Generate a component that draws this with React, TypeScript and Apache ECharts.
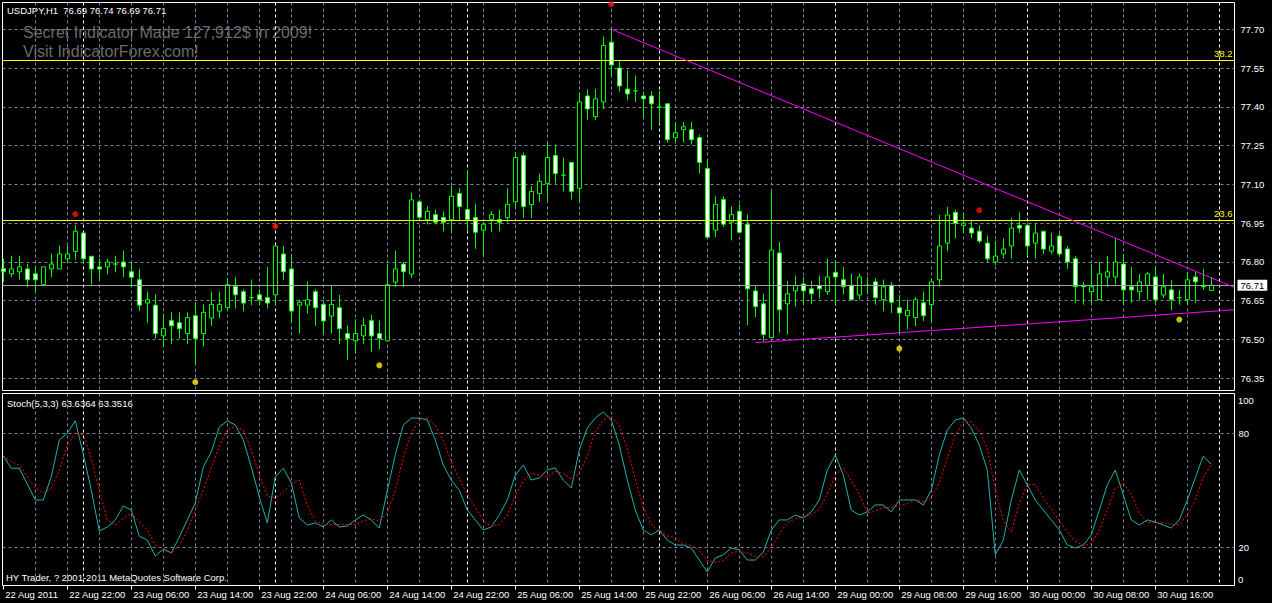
import React, { useEffect, useRef } from 'react';
import * as echarts from 'echarts';

// open, high, low, close per H1 bar (bar 0 = 22 Aug 14:00)
const ohlc: [number, number, number, number][] = [
  [76.774, 76.812, 76.722, 76.762], [76.754, 76.824, 76.741, 76.773], [76.762, 76.824, 76.732, 76.781], [76.773, 76.792, 76.703, 76.731],
  [76.754, 76.786, 76.683, 76.731], [76.712, 76.781, 76.712, 76.781], [76.773, 76.832, 76.741, 76.792], [76.773, 76.863, 76.773, 76.831],
  [76.812, 76.863, 76.799, 76.831], [76.841, 76.944, 76.809, 76.919], [76.912, 76.912, 76.792, 76.812], [76.822, 76.822, 76.712, 76.773],
  [76.781, 76.812, 76.730, 76.773], [76.781, 76.812, 76.751, 76.800], [76.792, 76.824, 76.760, 76.792], [76.800, 76.844, 76.741, 76.781],
  [76.762, 76.800, 76.703, 76.741], [76.731, 76.773, 76.610, 76.633], [76.641, 76.685, 76.564, 76.654], [76.633, 76.674, 76.504, 76.523],
  [76.514, 76.601, 76.473, 76.542], [76.573, 76.605, 76.482, 76.553], [76.565, 76.605, 76.504, 76.542], [76.523, 76.605, 76.482, 76.585],
  [76.592, 76.645, 76.403, 76.504], [76.523, 76.636, 76.473, 76.605], [76.583, 76.685, 76.553, 76.636], [76.610, 76.685, 76.583, 76.636],
  [76.623, 76.738, 76.610, 76.712], [76.705, 76.742, 76.620, 76.673], [76.685, 76.694, 76.610, 76.641], [76.662, 76.732, 76.633, 76.662],
  [76.673, 76.694, 76.633, 76.654], [76.662, 76.781, 76.620, 76.641], [76.673, 76.862, 76.633, 76.862], [76.831, 76.862, 76.730, 76.762],
  [76.773, 76.831, 76.568, 76.610], [76.633, 76.654, 76.523, 76.644], [76.633, 76.724, 76.601, 76.654], [76.685, 76.694, 76.553, 76.623],
  [76.636, 76.649, 76.523, 76.572], [76.591, 76.712, 76.523, 76.636], [76.623, 76.673, 76.482, 76.542], [76.523, 76.555, 76.422, 76.504],
  [76.495, 76.578, 76.446, 76.523], [76.514, 76.585, 76.482, 76.555], [76.573, 76.595, 76.453, 76.514], [76.523, 76.573, 76.463, 76.504],
  [76.495, 76.792, 76.495, 76.712], [76.722, 76.844, 76.703, 76.773], [76.792, 76.800, 76.703, 76.762], [76.753, 77.069, 76.739, 77.040],
  [77.033, 77.042, 76.960, 76.973], [76.963, 77.015, 76.945, 76.996], [76.983, 77.003, 76.945, 76.954], [76.972, 76.996, 76.919, 76.954],
  [76.963, 77.094, 76.919, 77.054], [77.065, 77.085, 76.963, 77.014], [77.003, 77.156, 76.919, 76.964], [76.972, 77.024, 76.851, 76.915],
  [76.923, 76.954, 76.826, 76.946], [76.965, 76.996, 76.915, 76.983], [76.965, 77.003, 76.919, 76.954], [76.972, 77.085, 76.954, 77.023],
  [77.033, 77.226, 77.012, 77.204], [77.212, 77.223, 76.971, 77.014], [77.022, 77.094, 76.971, 77.073], [77.065, 77.142, 77.033, 77.112],
  [77.104, 77.264, 77.037, 77.204], [77.212, 77.254, 77.104, 77.142], [77.136, 77.204, 77.073, 77.136], [77.185, 77.185, 77.042, 77.073],
  [77.085, 77.456, 77.033, 77.419], [77.442, 77.469, 77.351, 77.392], [77.362, 77.469, 77.349, 77.431], [77.419, 77.672, 77.392, 77.638],
  [77.650, 77.700, 77.518, 77.562], [77.550, 77.581, 77.459, 77.481], [77.469, 77.541, 77.427, 77.450], [77.462, 77.521, 77.418, 77.462],
  [77.442, 77.460, 77.358, 77.431], [77.442, 77.460, 77.310, 77.412], [77.400, 77.462, 77.335, 77.400], [77.412, 77.412, 77.262, 77.273],
  [77.281, 77.342, 77.262, 77.300], [77.312, 77.342, 77.262, 77.323], [77.312, 77.342, 77.254, 77.273], [77.281, 77.292, 77.142, 77.185],
  [77.162, 77.197, 76.896, 76.896], [76.923, 77.054, 76.896, 77.023], [77.042, 77.054, 76.935, 76.946], [76.954, 77.014, 76.883, 76.983],
  [76.996, 77.023, 76.915, 76.915], [76.946, 76.983, 76.556, 76.696], [76.688, 76.709, 76.587, 76.627], [76.638, 76.677, 76.492, 76.519],
  [76.508, 77.073, 76.508, 76.846], [76.835, 76.877, 76.526, 76.615], [76.638, 76.727, 76.519, 76.677], [76.688, 76.746, 76.627, 76.709],
  [76.715, 76.742, 76.638, 76.688], [76.696, 76.727, 76.638, 76.677], [76.709, 76.746, 76.658, 76.696], [76.685, 76.812, 76.672, 76.742],
  [76.760, 76.804, 76.635, 76.742], [76.731, 76.781, 76.674, 76.704], [76.710, 76.755, 76.654, 76.654], [76.672, 76.755, 76.654, 76.742],
  [76.710, 76.742, 76.674, 76.710], [76.723, 76.737, 76.635, 76.662], [76.654, 76.732, 76.610, 76.704], [76.710, 76.723, 76.603, 76.644],
  [76.623, 76.672, 76.523, 76.603], [76.592, 76.654, 76.540, 76.612], [76.585, 76.665, 76.551, 76.654], [76.642, 76.685, 76.572, 76.592],
  [76.635, 76.737, 76.568, 76.723], [76.731, 76.982, 76.704, 76.862], [76.873, 77.013, 76.842, 76.982], [76.992, 77.001, 76.891, 76.950],
  [76.942, 76.992, 76.912, 76.950], [76.931, 76.962, 76.891, 76.912], [76.919, 76.942, 76.873, 76.881], [76.873, 76.901, 76.800, 76.812],
  [76.800, 76.881, 76.788, 76.823], [76.831, 76.892, 76.812, 76.850], [76.862, 76.971, 76.812, 76.931], [76.942, 76.992, 76.912, 76.931],
  [76.942, 76.950, 76.823, 76.862], [76.873, 76.950, 76.812, 76.912], [76.919, 76.919, 76.831, 76.850], [76.842, 76.912, 76.831, 76.862],
  [76.900, 76.912, 76.823, 76.831], [76.850, 76.862, 76.773, 76.800], [76.812, 76.823, 76.642, 76.704], [76.710, 76.723, 76.635, 76.704],
  [76.685, 76.792, 76.642, 76.704], [76.654, 76.800, 76.654, 76.754], [76.742, 76.823, 76.704, 76.762], [76.742, 76.892, 76.713, 76.800],
  [76.792, 76.831, 76.635, 76.692], [76.704, 76.781, 76.642, 76.692], [76.685, 76.754, 76.654, 76.723], [76.710, 76.762, 76.654, 76.754],
  [76.742, 76.785, 76.635, 76.654], [76.672, 76.754, 76.662, 76.704], [76.692, 76.731, 76.612, 76.654], [76.662, 76.692, 76.635, 76.662],
  [76.654, 76.762, 76.635, 76.731], [76.742, 76.762, 76.642, 76.723], [76.710, 76.773, 76.692, 76.704], [76.690, 76.740, 76.690, 76.710],
];

const stochK = [
  68.1, 61.6, 61.6, 53.3, 44.9, 44.9, 57.2, 76.5, 80, 86.6, 69, 50, 28.6, 30.7, 34.4, 41.7, 39.6, 25.9, 23.8, 15.4,
  19.1, 17, 25.4, 34.4, 43.3, 62.3, 70.2, 83.3, 86.5, 84.4, 76.5, 62.3, 46.5, 32.8, 57, 61.7, 53.8, 35.4,
  31.7, 32.8, 30.7, 34.4, 30.7, 31.2, 34.4, 37, 34.4, 30.1,
  50, 68.6, 84.4, 88, 88, 87, 76.5, 63.3, 55.4, 50,
  39.6, 34.4, 29.1, 30.7, 37, 44.9, 58, 63.3, 55.4, 56.5,
  60.7, 61.8, 55.4, 51.2, 71.2, 82.8, 88.1, 91.2, 87, 73.8,
  55.4, 39.6, 29.1, 26.5, 29.1, 23.8, 21.2, 21.2, 19.6, 13.3,
  7, 14.4, 16, 19.6, 18.6, 13.3, 13.3, 17.5, 29.1, 34.4,
  34.4, 37, 35.4, 38.6, 44.9, 60.7, 68.6, 58, 39.6, 37,
  38.6, 42.3, 42.3, 38.6, 44.9, 44.9, 44.9, 42.3, 50, 68.6,
  81.7, 87, 88.1, 82.8, 73.8, 60.7, 16, 23.8, 44.9, 60.7,
  52.9, 44.9, 39.6, 34.4, 29.1, 21.2, 19.6, 21.2, 26.5, 39.6,
  52.9, 60.7, 47.5, 34.4, 31.7, 34.4, 33.3, 31.7, 30.1, 34.4,
  44.9, 56.6, 68.1, 63.6364,
];

const stochD = [
  68, 65, 63.3, 57, 51.2, 48.6, 51.2, 60.7, 73.8, 80.2, 79.1, 67, 50, 34.4, 31.7, 35.4, 38.1, 33.3, 29.1, 21.2,
  18.6, 17, 21.2, 28.6, 39.6, 50.2, 61.7, 73.3, 81.7, 83.8, 81.7, 71.2, 58, 47, 46, 49.1, 53.3, 55.4,
  42, 34, 32, 32, 32, 32, 32, 34, 35, 34,
  38, 50, 67, 80, 87, 88, 84, 76, 65, 56,
  48, 41, 34, 31, 32, 37, 47, 55, 59, 58,
  57, 60, 59, 56, 59, 68, 81, 87, 89, 84,
  72, 56, 41, 32, 28, 26, 25, 22, 21, 18,
  13, 12, 13, 17, 18, 17, 15, 15, 20, 27,
  33, 35, 36, 37, 40, 48, 58, 62, 55, 48,
  38, 39, 41, 41, 42, 43, 45, 44, 46, 54,
  67, 79, 86, 86, 81, 72, 50, 34, 28, 43,
  53, 53, 46, 40, 34, 28, 23, 21, 22, 29,
  40, 51, 54, 48, 38, 33, 33, 33, 32, 32,
  37, 45, 57, 63.3516,
];

const timeLabels = [
  '22 Aug 2011', '22 Aug 22:00', '23 Aug 06:00', '23 Aug 14:00', '23 Aug 22:00', '24 Aug 06:00', '24 Aug 14:00',
  '24 Aug 22:00', '25 Aug 06:00', '25 Aug 14:00', '25 Aug 22:00', '26 Aug 06:00', '26 Aug 14:00', '29 Aug 00:00',
  '29 Aug 08:00', '29 Aug 16:00', '30 Aug 00:00', '30 Aug 08:00', '30 Aug 16:00',
];
const timeLabelBars = [0, 8, 16, 24, 32, 40, 48, 56, 64, 72, 80, 88, 96, 104, 112, 120, 128, 136, 144];

const priceTicks = [76.35, 76.5, 76.65, 76.8, 76.95, 77.1, 77.25, 77.4, 77.55, 77.7];
const stochLevels = [20, 80];
const gridBars = [4, 8, 12, 16, 20, 24, 28, 32, 36, 40, 44, 48, 52, 56, 60, 64, 68, 72, 76, 80, 84, 88, 92, 96, 100, 108, 112, 116, 120, 124, 132, 136, 140, 144, 148];
const daySeparatorBars = [10, 34, 58, 82, 104, 128, 152];

const fibLevels = [
  { name: '38.2', price: 77.58 },
  { name: '23.6', price: 76.957 },
];
const bidPrice = 76.71;
const upperTrend = [[76, 77.7], [153.85, 76.702]];
const lowerTrend = [[94, 76.488], [153.85, 76.615]];
const highMarks = [[9, 76.985], [34, 76.938], [76, 77.797], [122, 77.0]];
const lowMarks = [[24, 76.335], [47, 76.4], [112, 76.465], [147, 76.577]];

const FONT = '"Liberation Sans", Arial, sans-serif';
const GRID_GRAY = '#778899';

export default function App() {
  const ref = useRef<HTMLDivElement>(null);
  useEffect(() => {
    const chart = echarts.init(ref.current!, null, { renderer: 'svg' });
    const verticals = [...gridBars.map((b) => ({ b, c: GRID_GRAY })), ...daySeparatorBars.map((b) => ({ b, c: '#ffffff' }))].sort(
      (a, b) => a.b - b.b,
    );
    const vertBars = verticals.map((v) => v.b);
    const vertColors = verticals.map((v) => v.c);
    const xRange = { min: -0.1, max: 153.9 };
    const vertAxis = (gridIndex: number, position: string) => ({
      type: 'value',
      gridIndex,
      position,
      ...xRange,
      axisLine: { show: false },
      axisLabel: { show: false },
      axisTick: { show: false, customValues: vertBars },
      splitLine: { show: true, customValues: vertBars, lineStyle: { color: vertColors, type: [3, 3], width: 1 } },
    });
    const option: any = {
      animation: false,
      backgroundColor: '#000000',
      textStyle: { fontFamily: FONT },
      grid: [
        { left: 2.5, top: 2.5, width: 1232, height: 388, show: true, borderColor: '#ffffff', borderWidth: 1, backgroundColor: 'transparent' },
        { left: 2.5, top: 393.5, width: 1232, height: 192, show: true, borderColor: '#ffffff', borderWidth: 1, backgroundColor: 'transparent' },
      ],
      xAxis: [
        vertAxis(0, 'bottom'),
        vertAxis(1, 'top'),
        {
          type: 'value',
          gridIndex: 1,
          position: 'bottom',
          ...xRange,
          axisLine: { show: false },
          splitLine: { show: false },
          axisTick: { show: true, customValues: timeLabelBars, length: 4, lineStyle: { color: '#ffffff' } },
          axisLabel: {
            customValues: timeLabelBars,
            formatter: (v: number) => timeLabels[timeLabelBars.indexOf(Math.round(v))] ?? '',
            align: 'left',
            padding: [0, 0, 0, 2],
            color: '#ffffff',
            fontSize: 9.5,
            fontFamily: FONT,
            margin: 4,
          },
        },
      ],
      yAxis: [
        {
          type: 'value',
          gridIndex: 0,
          position: 'right',
          min: 76.3028,
          max: 77.8037,
          axisLine: { show: false },
          axisTick: { show: false, customValues: priceTicks },
          splitLine: { show: true, customValues: priceTicks, lineStyle: { color: GRID_GRAY, type: [3, 3], width: 1 } },
          axisLabel: {
            customValues: priceTicks,
            formatter: (v: number) => v.toFixed(2),
            color: '#ffffff',
            fontSize: 9.5,
            fontFamily: FONT,
            margin: 6,
          },
        },
        {
          type: 'value',
          gridIndex: 1,
          position: 'right',
          min: -0.105,
          max: 100.95,
          axisLine: { show: false },
          axisTick: { show: false, customValues: stochLevels },
          splitLine: { show: true, customValues: stochLevels, lineStyle: { color: GRID_GRAY, type: [3, 3], width: 1 } },
          axisLabel: {
            customValues: stochLevels,
            formatter: (v: number) => String(v),
            color: '#ffffff',
            fontSize: 9.5,
            fontFamily: FONT,
            margin: 4,
          },
        },
      ],
      series: [
        {
          type: 'candlestick',
          xAxisIndex: 0,
          yAxisIndex: 0,
          barWidth: 4,
          clip: true,
          data: ohlc.map(([o, h, l, c], i) => [i, o, c, l, h]),
          itemStyle: {
            color: '#000000',
            color0: '#ffffff',
            borderColor: '#00ff00',
            borderColor0: '#00ff00',
            borderColorDoji: '#00ff00',
            borderWidth: 1,
          },
          markLine: {
            silent: true,
            symbol: ['none', 'none'],
            animation: false,
            data: [
              ...fibLevels.map((f) => ({
                yAxis: f.price,
                lineStyle: { color: '#ffff00', type: 'solid', width: 1 },
                label: { show: true, position: 'insideEndTop', formatter: f.name, color: '#ffff00', fontSize: 9.5, fontFamily: FONT, distance: 2 },
              })),
              {
                yAxis: bidPrice,
                lineStyle: { color: '#a0a0a0', type: 'solid', width: 1 },
                label: {
                  show: true,
                  position: 'end',
                  formatter: bidPrice.toFixed(2),
                  color: '#000000',
                  backgroundColor: '#ffffff',
                  padding: [1, 3, 0, 3],
                  fontSize: 9.5,
                  fontFamily: FONT,
                  distance: 3,
                },
              },
              [
                { coord: upperTrend[0], lineStyle: { color: '#ff00ff', type: 'solid', width: 1 }, label: { show: false } },
                { coord: upperTrend[1] },
              ],
              [
                { coord: lowerTrend[0], lineStyle: { color: '#ff00ff', type: 'solid', width: 1 }, label: { show: false } },
                { coord: lowerTrend[1] },
              ],
            ],
          },
        },
        {
          type: 'scatter',
          xAxisIndex: 0,
          yAxisIndex: 0,
          symbol: 'circle',
          symbolSize: 6,
          itemStyle: { color: '#ff1000' },
          data: highMarks,
          z: 4,
        },
        {
          type: 'scatter',
          xAxisIndex: 0,
          yAxisIndex: 0,
          symbol: 'circle',
          symbolSize: 6,
          itemStyle: { color: '#ffee00' },
          data: lowMarks,
          z: 4,
        },
        {
          type: 'line',
          xAxisIndex: 2,
          yAxisIndex: 1,
          showSymbol: false,
          data: stochK.map((v, i) => [i, v]),
          lineStyle: { color: '#20b2aa', width: 1 },
          z: 3,
        },
        {
          type: 'line',
          xAxisIndex: 2,
          yAxisIndex: 1,
          showSymbol: false,
          data: stochD.map((v, i) => [i, v]),
          lineStyle: { color: '#ff0000', width: 1, type: [2, 2] },
          z: 3,
        },
      ],
      graphic: [
        { type: 'text', left: 7, top: 5, style: { text: 'USDJPY,H1\u00a0\u00a076.69 76.74 76.69 76.71', fill: '#ffffff', font: `9.5px ${FONT}` } },
        { type: 'text', left: 23, top: 24, style: { text: 'Secret Indicator Made 127,912$ in 2009!', fill: '#6a6a6a', font: `16px ${FONT}` } },
        { type: 'text', left: 23, top: 43, style: { text: 'Visit IndicatorForex.com!', fill: '#6a6a6a', font: `16px ${FONT}` } },
        { type: 'text', left: 7, top: 398, style: { text: 'Stoch(5,3,3) 63.6364 63.3516', fill: '#ffffff', font: `9.5px ${FONT}` } },
        { type: 'text', left: 6, top: 572, style: { text: 'HY Trader, ? 2001-2011 MetaQuotes Software Corp.', fill: '#ffffff', font: `9.5px ${FONT}` } },
        { type: 'text', left: 1238, top: 395, style: { text: '100', fill: '#ffffff', font: `9.5px ${FONT}` } },
        { type: 'text', left: 1238, top: 574, style: { text: '0', fill: '#ffffff', font: `9.5px ${FONT}` } },
      ],
    };
    chart.setOption(option);
    return () => chart.dispose();
  }, []);
  return <div ref={ref} style={{ position: 'absolute', left: 0, top: 0, width: 1272, height: 603, background: '#000' }} />;
}
